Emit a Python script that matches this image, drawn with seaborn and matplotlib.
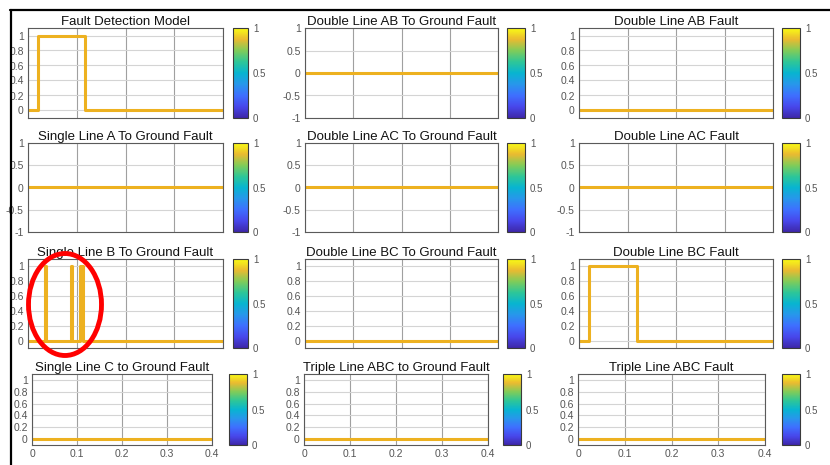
import numpy as np
import pandas as pd
import matplotlib
matplotlib.use("Agg")
import matplotlib.pyplot as plt
import seaborn as sns
from matplotlib.colors import LinearSegmentedColormap
from matplotlib.cm import ScalarMappable
from matplotlib.patches import Ellipse
from matplotlib.lines import Line2D

sns.set_theme(style="white")
plt.rcParams["font.family"] = ["Liberation Sans", "DejaVu Sans"]

# ---------------- data ----------------
titles = [
    "Fault Detection Model", "Double Line AB To Ground Fault", "Double Line AB Fault",
    "Single Line A To Ground Fault", "Double Line AC To Ground Fault", "Double Line AC Fault",
    "Single Line B To Ground Fault", "Double Line BC To Ground Fault", "Double Line BC Fault",
    "Single Line C to Ground Fault", "Triple Line ABC to Ground Fault", "Triple Line ABC Fault",
]
# step signals: change times (s) and output value after each time
t_detect = [0.0, 0.020, 0.117, 0.4]
v_detect = [0, 1, 0, 0]
t_slbg = [0.0, 0.034, 0.036, 0.088, 0.091, 0.106, 0.112, 0.4]
v_slbg = [0, 1, 0, 1, 0, 1, 0, 0]
t_dlbc = [0.0, 0.020, 0.119, 0.4]
v_dlbc = [0, 1, 0, 0]
t_flat = [0.0, 0.4]
v_flat = [0, 0]

signals_t = [t_detect, t_flat, t_flat, t_flat, t_flat, t_flat,
             t_slbg, t_flat, t_dlbc, t_flat, t_flat, t_flat]
signals_v = [v_detect, v_flat, v_flat, v_flat, v_flat, v_flat,
             v_slbg, v_flat, v_dlbc, v_flat, v_flat, v_flat]
# y-axis style: "unit" -> [-0.1,1.1] ticks 0..1 ; "sym" -> [-1,1]
yaxis_kind = ["unit", "sym", "unit",
              "sym", "sym", "sym",
              "unit", "unit", "unit",
              "unit", "unit", "unit"]
x_ticks = [0, 0.1, 0.2, 0.3, 0.4]
x_ticklabels = ["0", "0.1", "0.2", "0.3", "0.4"]
unit_ticks = [0, 0.2, 0.4, 0.6, 0.8, 1]
unit_labels = ["0", "0.2", "0.4", "0.6", "0.8", "1"]
sym_ticks = [-1, -0.5, 0, 0.5, 1]
sym_labels = ["-1", "-0.5", "0", "0.5", "1"]
cbar_ticks = [0, 0.5, 1]
cbar_labels = ["0", "0.5", "1"]
parula_colors = [
    (0.2422, 0.1504, 0.6603), (0.2803, 0.2782, 0.9221), (0.2440, 0.4358, 0.9988),
    (0.1540, 0.5902, 0.9218), (0.0297, 0.7082, 0.8163), (0.1802, 0.7771, 0.5935),
    (0.5044, 0.7993, 0.3480), (0.9184, 0.7308, 0.1890), (0.9769, 0.9839, 0.0805),
]

# ---------------- layout (pixels) ----------------
W, H = 830, 465
fig = plt.figure(figsize=(W / 100, H / 100), dpi=100)
fig.patch.set_facecolor("white")

rows_y = [(28, 118), (143, 232), (259, 348), (374, 445)]
cols_x = [(28, 223, 233, 248), (305, 498, 507, 525), (579, 773, 782, 800)]
cols_x_last = [(32, 212, 229, 247), (304, 488, 503, 521), (578, 765, 782, 800)]

def rect(x0, x1, y0, y1):
    return [x0 / W, 1 - y1 / H, (x1 - x0) / W, (y1 - y0) / H]

parula = LinearSegmentedColormap.from_list("parula", parula_colors)
line_color = (0.929, 0.694, 0.125)
tick_color = "#555555"

for i in range(12):
    r, c = divmod(i, 3)
    y0, y1 = rows_y[r]
    ax_l, ax_r, cb_l, cb_r = (cols_x_last if r == 3 else cols_x)[c]
    ax = fig.add_axes(rect(ax_l, ax_r, y0, y1))
    df = pd.DataFrame({"t": signals_t[i], "v": signals_v[i]})
    sns.lineplot(data=df, x="t", y="v", ax=ax, color=line_color, linewidth=2.2,
                 drawstyle="steps-post", estimator=None, sort=False)
    ax.set_xlim(0, 0.4)
    if yaxis_kind[i] == "unit":
        ax.set_ylim(-0.1, 1.1)
        ax.set_yticks(unit_ticks)
        ax.set_yticklabels(unit_labels)
    else:
        ax.set_ylim(-1, 1)
        ax.set_yticks(sym_ticks)
        ax.set_yticklabels(sym_labels)
    ax.set_xticks(x_ticks)
    if r == 3:
        ax.set_xticklabels(x_ticklabels)
    else:
        ax.set_xticklabels([])
    ax.set_xlabel("")
    ax.set_ylabel("")
    ax.grid(True, axis="x", color="#a0a0a0", linewidth=0.8)
    ax.grid(True, axis="y", color="#d4d4d4", linewidth=0.8)
    ax.set_axisbelow(True)
    for s in ax.spines.values():
        s.set_color("#5a5a5a")
        s.set_linewidth(0.8)
    ax.tick_params(direction="in", length=3, width=0.6, color="#5a5a5a",
                   labelsize=7.5, labelcolor=tick_color, pad=3)
    ax.set_title(titles[i], fontsize=9.5, color="#111111", pad=2)

    cax = fig.add_axes(rect(cb_l, cb_r, y0, y1))
    sm = ScalarMappable(cmap=parula, norm=plt.Normalize(0, 1))
    cb = fig.colorbar(sm, cax=cax)
    cb.set_ticks(cbar_ticks)
    cb.set_ticklabels(cbar_labels)
    cb.outline.set_edgecolor("#3a3a3a")
    cb.outline.set_linewidth(0.8)
    cax.tick_params(length=0, labelsize=7, labelcolor=tick_color, pad=3.5)

# frame lines of the screenshot
fig.add_artist(Line2D([10 / W, 1], [1 - 10.5 / H, 1 - 10.5 / H], color="black", linewidth=1.6))
fig.add_artist(Line2D([10.5 / W, 10.5 / W], [0, 1 - 10 / H], color="black", linewidth=1.6))

# red highlight ellipse
fig.add_artist(Ellipse((65 / W, 1 - 304.5 / H), 73 / W, 102 / H,
                       fill=False, edgecolor="red", linewidth=3.5,
                       transform=fig.transFigure))

fig.savefig("out.png", dpi=100)
